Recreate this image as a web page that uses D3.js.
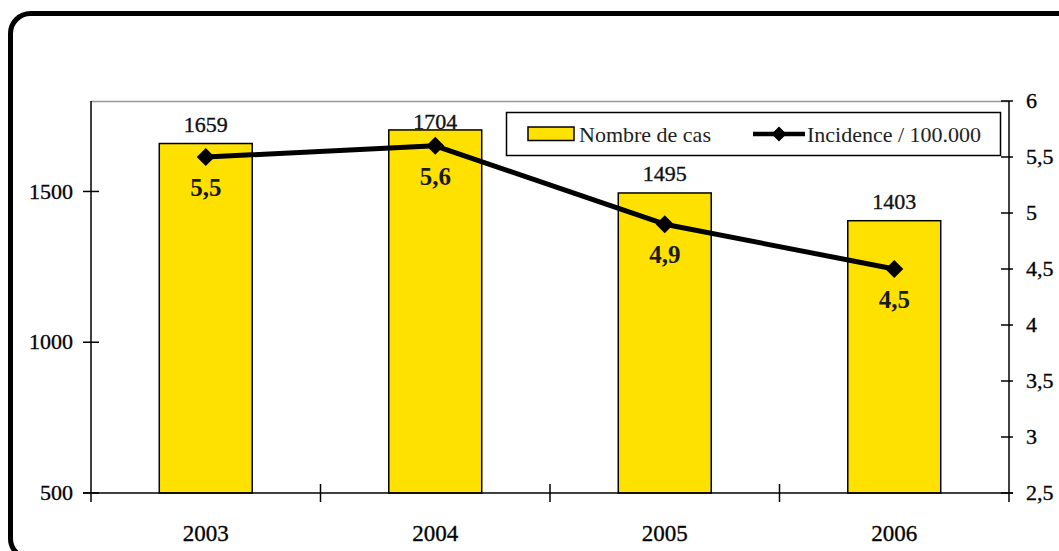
<!DOCTYPE html>
<html>
<head>
<meta charset="utf-8">
<script src="https://cdn.jsdelivr.net/npm/d3@7"></script>
<style>
  html, body { margin: 0; padding: 0; background: #fff; }
  svg { display: block; }
  text { font-family: "Liberation Serif", "Times New Roman", serif; }
  text.heavy { stroke: #111; stroke-width: 0.35px; }
</style>
</head>
<body>
<svg id="chart" width="1059" height="551"></svg>
<script>
const years = ["2003", "2004", "2005", "2006"];
const cases = [1659, 1704, 1495, 1403];
const incidence = [5.5, 5.6, 4.9, 4.5];
const leftTicks = [500, 1000, 1500];
const rightTicks = [2.5, 3, 3.5, 4, 4.5, 5, 5.5, 6];
const seriesNames = ["Nombre de cas", "Incidence / 100.000"];

(function () {
const svg = d3.select("#chart");
const pL = 91, pR = 1009, pT = 101, pB = 493;
const fmt = v => String(v).replace(".", ",");

// outer rounded frame
svg.append("rect")
  .attr("x", 10.5).attr("y", 13.5)
  .attr("width", 1080).attr("height", 545)
  .attr("rx", 20).attr("ry", 20)
  .attr("fill", "none").attr("stroke", "#000").attr("stroke-width", 5);

const x = d3.scaleBand().domain(years).range([pL, pR]).paddingInner(0.595).paddingOuter(0.2975);
const xTicks = d3.scaleBand().domain(years).range([pL, pR]);
const yL = d3.scaleLinear().domain([500, 1800]).range([pB, pT]);
const yR = d3.scaleLinear().domain([2.5, 6]).range([pB, pT]);

// plot top border (grey)
svg.append("line")
  .attr("x1", pL).attr("x2", pR).attr("y1", pT + 0.5).attr("y2", pT + 0.5)
  .attr("stroke", "#999").attr("stroke-width", 1.5);

// bars
svg.selectAll("rect.bar").data(cases).join("rect")
  .attr("class", "bar")
  .attr("x", (d, i) => x(years[i]))
  .attr("y", d => yL(d))
  .attr("width", x.bandwidth())
  .attr("height", d => pB - yL(d))
  .attr("fill", "#FFE100")
  .attr("stroke", "#000").attr("stroke-width", 1.5);

// bar value labels (kept inside the plot area, as the original does)
svg.selectAll("text.barlab").data(cases).join("text")
  .attr("class", "barlab heavy")
  .attr("x", (d, i) => x(years[i]) + x.bandwidth() / 2)
  .attr("y", d => Math.max(yL(d) - 12, pT + 28))
  .attr("text-anchor", "middle")
  .attr("font-size", 22)
  .attr("fill", "#111")
  .text(d => d);

// left axis
const axL = svg.append("g");
axL.append("line").attr("x1", pL).attr("x2", pL).attr("y1", pT).attr("y2", pB + 9)
  .attr("stroke", "#000").attr("stroke-width", 1.5);
leftTicks.forEach(t => {
  axL.append("line").attr("x1", pL - 8).attr("x2", pL + 8).attr("y1", yL(t)).attr("y2", yL(t))
    .attr("stroke", "#000").attr("stroke-width", 1.5);
  axL.append("text").attr("class", "heavy").attr("x", 73).attr("y", yL(t)).attr("dy", "0.32em")
    .attr("text-anchor", "end").attr("font-size", 22).attr("fill", "#000").text(t);
});

// right axis
const axR = svg.append("g");
axR.append("line").attr("x1", pR).attr("x2", pR).attr("y1", pT).attr("y2", pB + 9)
  .attr("stroke", "#000").attr("stroke-width", 1.5);
rightTicks.forEach(t => {
  axR.append("line").attr("x1", pR - 8).attr("x2", pR + 4).attr("y1", yR(t)).attr("y2", yR(t))
    .attr("stroke", "#000").attr("stroke-width", 1.5);
  axR.append("text").attr("class", "heavy").attr("x", 1026).attr("y", yR(t)).attr("dy", "0.32em")
    .attr("text-anchor", "start").attr("font-size", 22).attr("fill", "#000").text(fmt(t));
});

// x axis
const axX = svg.append("g");
axX.append("line").attr("x1", pL - 8).attr("x2", pR + 4).attr("y1", pB).attr("y2", pB)
  .attr("stroke", "#000").attr("stroke-width", 1.5);
years.forEach((yv, i) => {
  const xt = xTicks(yv) + xTicks.bandwidth();
  if (i < years.length - 1) {
    axX.append("line").attr("x1", xt).attr("x2", xt).attr("y1", pB - 9).attr("y2", pB + 9)
      .attr("stroke", "#000").attr("stroke-width", 1.5);
  }
  axX.append("text").attr("class", "heavy").attr("x", x(yv) + x.bandwidth() / 2).attr("y", 541)
    .attr("text-anchor", "middle").attr("font-size", 23).attr("fill", "#000").text(yv);
});

// line
const cx = i => x(years[i]) + x.bandwidth() / 2;
const line = d3.line().x((d, i) => cx(i)).y(d => yR(d));
svg.append("path").datum(incidence)
  .attr("d", line).attr("fill", "none").attr("stroke", "#000").attr("stroke-width", 5)
  .attr("stroke-linejoin", "round");

const diamond = (cxv, cyv, r) => `M${cxv},${cyv - r}L${cxv + r},${cyv}L${cxv},${cyv + r}L${cxv - r},${cyv}Z`;
svg.selectAll("path.mk").data(incidence).join("path")
  .attr("class", "mk")
  .attr("d", (d, i) => diamond(cx(i), yR(d), 9))
  .attr("fill", "#000");

// incidence labels
svg.selectAll("text.inclab").data(incidence).join("text")
  .attr("class", "inclab")
  .attr("x", (d, i) => cx(i))
  .attr("y", d => yR(d) + 39)
  .attr("text-anchor", "middle")
  .attr("font-size", 25).attr("font-weight", "bold")
  .attr("fill", "#1a1a1a")
  .text(d => fmt(d));

// legend
const lg = svg.append("g");
lg.append("rect").attr("x", 506.5).attr("y", 112.5).attr("width", 494).attr("height", 43)
  .attr("fill", "#fff").attr("stroke", "#000").attr("stroke-width", 1.5);
lg.append("rect").attr("x", 528).attr("y", 127).attr("width", 46).attr("height", 13.5)
  .attr("fill", "#FFE100").attr("stroke", "#000").attr("stroke-width", 1.5);
lg.append("text").attr("x", 579).attr("y", 134).attr("dy", "0.35em")
  .attr("font-size", 22).attr("fill", "#222").text(seriesNames[0]);
lg.append("line").attr("x1", 753).attr("x2", 805).attr("y1", 134).attr("y2", 134)
  .attr("stroke", "#000").attr("stroke-width", 4.5);
lg.append("path").attr("d", diamond(779, 134, 7.5)).attr("fill", "#000");
lg.append("text").attr("x", 807).attr("y", 134).attr("dy", "0.35em")
  .attr("font-size", 22).attr("fill", "#222").text(seriesNames[1]);
})();
</script>
</body>
</html>
